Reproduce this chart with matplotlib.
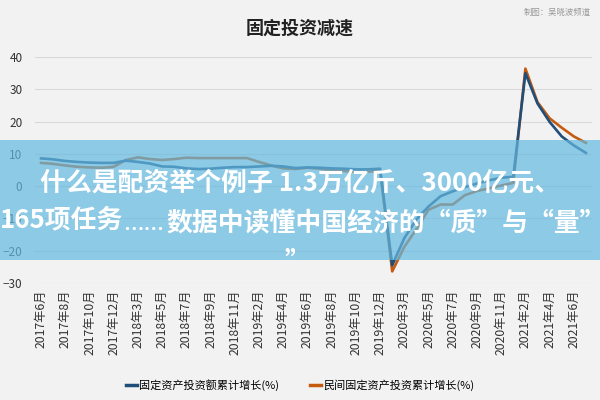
import numpy as np
import matplotlib
matplotlib.use('Agg')
import matplotlib.pyplot as plt
from matplotlib.patches import Rectangle

plt.rcParams['font.family'] = ['Noto Sans CJK SC', 'DejaVu Sans']

#=== data ===
months = ['2017年6月', '2017年7月', '2017年8月', '2017年9月', '2017年10月', '2017年11月', '2017年12月',
          '2018年2月', '2018年3月', '2018年4月', '2018年5月', '2018年6月', '2018年7月', '2018年8月',
          '2018年9月', '2018年10月', '2018年11月', '2018年12月',
          '2019年2月', '2019年3月', '2019年4月', '2019年5月', '2019年6月', '2019年7月', '2019年8月',
          '2019年9月', '2019年10月', '2019年11月', '2019年12月',
          '2020年2月', '2020年3月', '2020年4月', '2020年5月', '2020年6月', '2020年7月', '2020年8月',
          '2020年9月', '2020年10月', '2020年11月', '2020年12月',
          '2021年2月', '2021年3月', '2021年4月', '2021年5月', '2021年6月', '2021年7月']

fai_growth = [8.6, 8.3, 7.8, 7.5, 7.3, 7.2, 7.2,
              7.9, 7.5, 7.0, 6.1, 6.0, 5.5, 5.3, 5.4, 5.7, 5.9, 5.9,
              6.1, 6.3, 6.1, 5.6, 5.8, 5.7, 5.5, 5.4, 5.2, 5.2, 5.4,
              -24.5, -16.1, -10.3, -6.3, -3.1, -1.6, -0.3, 0.8, 1.8, 2.6, 2.9,
              35.0, 25.6, 19.9, 15.4, 12.6, 10.3]

private_growth = [7.2, 6.9, 6.4, 6.0, 5.8, 5.7, 6.0,
                  8.1, 8.9, 8.4, 8.1, 8.4, 8.8, 8.7, 8.7, 8.7, 8.7, 8.7,
                  7.5, 6.4, 5.5, 5.3, 5.7, 5.4, 4.9, 4.7, 4.4, 4.5, 4.7,
                  -26.4, -18.8, -13.3, -7.3, -5.7, -5.7, -2.8, -1.5, -0.7, 0.2, 1.0,
                  36.4, 26.0, 21.0, 18.1, 15.4, 13.4]

labels = ['固定资产投资额累计增长(%)', '民间固定资产投资累计增长(%)']
yticks = [-30, -20, -10, 0, 10, 20, 30, 40]

bg = '#f2f2f2'
fig = plt.figure(figsize=(6, 4), dpi=100, facecolor=bg)
ax = fig.add_axes([35/600, 1-283/400, 557/600, 226/400], facecolor=bg)

x = np.arange(len(months))
ax.plot(x, fai_growth, color='#1f4e79', lw=1.9, label=labels[0], zorder=3)
ax.plot(x, private_growth, color='#c55a11', lw=1.9, label=labels[1], zorder=2)

ax.set_xlim(-0.5, len(months) - 0.5)
ax.set_ylim(-30, 40)
ax.set_yticks(yticks)
ax.set_xticks(x[::2])
ax.set_xticklabels(months[::2], rotation=90, fontsize=8.8, color='#333333')
ax.tick_params(axis='y', labelsize=8.5, colors='#333333', length=0, pad=9)
ax.tick_params(axis='x', length=0, pad=5)
for s in ax.spines.values():
    s.set_visible(False)
ax.grid(axis='y', color='#d9d9d9', lw=0.8)
ax.set_axisbelow(True)

fig.text(0.5, 1-28/400, '固定投资减速', ha='center', va='center', fontsize=13, fontweight='bold', color='#222222')
fig.text(0.985, 1-12/400, '制图：吴晓波频道', ha='right', va='center', fontsize=6, color='#999999')

leg = fig.legend(loc='center', bbox_to_anchor=(0.5, 1-385/400), ncol=2, frameon=False,
                 fontsize=8, handlelength=1.0, handletextpad=0.2, columnspacing=2.8)
for h in leg.get_lines():
    h.set_linewidth(2.5)

# article overlay banner
fig.add_artist(Rectangle((0, 1-260/400), 1, 120/400, transform=fig.transFigure,
                         facecolor='#63b9e1', alpha=0.7, edgecolor='none', zorder=10))
ov = dict(fontsize=18.6, fontweight='bold', color='white', zorder=11)
fig.text(0.5, 1-183/400, '什么是配资举个例子 1.3万亿斤、3000亿元、', ha='center', va='center', **ov)
t1 = fig.text(0, 1-220/400, '165项任务', ha='left', va='center', **ov)
t2 = fig.text(0, 0, '……', ha='left', va='baseline', family=['Noto Sans', 'DejaVu Sans'], **ov)
t3 = fig.text(0, 0, '数据中读懂中国经济的“质”与“量”', ha='left', va='baseline', **ov)
fig.text(297/600, 1-262/400, '”', ha='center', va='center', **ov)

# chain the pieces of the second banner line
fig.canvas.draw()
r = fig.canvas.get_renderer()
inv = fig.transFigure.inverted()
bb1 = t1.get_window_extent(r)
base_y = inv.transform((0, bb1.y0 + 0.12 * bb1.height))[1]
t2.set_position((inv.transform((bb1.x1, 0))[0], base_y))
bb2 = t2.get_window_extent(r)
t3.set_position((inv.transform((bb2.x1 + 2, 0))[0], base_y))

plt.savefig('out.png', dpi=100, facecolor=bg)
